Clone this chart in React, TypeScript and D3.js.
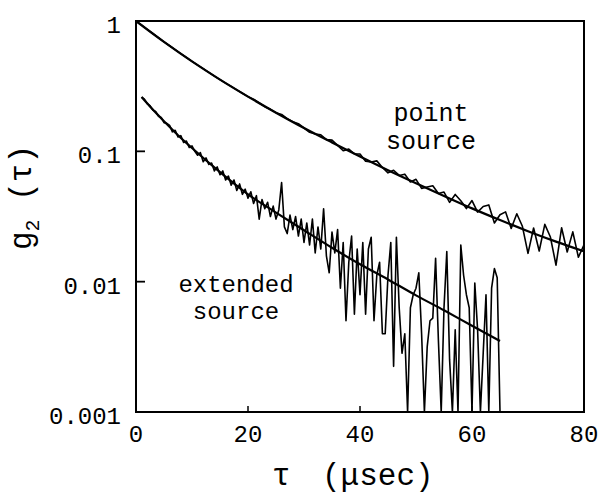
import React from 'react';
import * as d3 from 'd3';

const W = 598;
const H = 495;

const X_TICKS = [0, 20, 40, 60, 80];
const X_TICK_LABELS = ['0', '20', '40', '60', '80'];
const Y_TICKS = [1, 0.1, 0.01, 0.001];
const Y_TICK_LABELS = ['1', '0.1', '0.01', '0.001'];

const X_TITLE_SYMBOL = 'τ';
const X_TITLE_UNIT = '(μsec)';
const Y_TITLE_MAIN = 'g';
const Y_TITLE_SUB = '2';
const Y_TITLE_REST = ' (τ)';

const LABEL_POINT = ['point', 'source'];
const LABEL_EXT = ['extended', 'source'];

// fitted curves
const POINT_FIT_TAU = [0, 5, 10, 15, 20, 25, 30, 35, 40, 45, 50, 55, 60, 65, 70, 75, 80];
const POINT_FIT_G2 = [1, 0.692, 0.49, 0.355, 0.263, 0.198, 0.151, 0.117, 0.0912, 0.0716, 0.0569, 0.0455, 0.0365, 0.0297, 0.0244, 0.0203, 0.0171];

const EXT_FIT_TAU = [1, 3, 5, 7.5, 10, 15, 20, 25, 30, 35, 40, 45, 50, 55, 60, 65];
const EXT_FIT_G2 = [0.261, 0.209, 0.17, 0.133, 0.106, 0.0692, 0.0468, 0.0339, 0.0248, 0.0182, 0.0136, 0.0104, 0.00785, 0.00603, 0.00459, 0.00351];

// measured data: point source, tau = 0..80 µs step 1
const POINT_TAU_START = 0;
const POINT_TAU_STEP = 1;
const POINT_G2 = [
  1.0, 0.929, 0.863, 0.802, 0.745, 0.692, 0.646, 0.603, 0.562, 0.525,
  0.49, 0.459, 0.431, 0.404, 0.378, 0.355, 0.334, 0.315, 0.296, 0.279,
  0.263, 0.251, 0.235, 0.22, 0.21, 0.198, 0.192, 0.178, 0.169, 0.163,
  0.151, 0.14, 0.136, 0.134, 0.123, 0.122, 0.111, 0.101, 0.104, 0.0958,
  0.0955, 0.084, 0.0828, 0.0845, 0.0752, 0.0684, 0.0716, 0.0653, 0.0668, 0.0582,
  0.061, 0.052, 0.0532, 0.0545, 0.0475, 0.0487, 0.0406, 0.0467, 0.0418, 0.0364,
  0.0419, 0.0342, 0.0377, 0.0388, 0.0282, 0.0326, 0.0343, 0.0256, 0.0332, 0.0266,
  0.0165, 0.0258, 0.0172, 0.0275, 0.022, 0.0134, 0.0259, 0.0169, 0.0241, 0.0154,
  0.0192,
];

// measured data: extended source, tau = 1..65 µs step 0.5 (0 = no correlation, below axis)
const EXT_TAU_START = 1;
const EXT_TAU_STEP = 0.5;
const EXT_G2 = [
  0.261, 0.251, 0.232, 0.224, 0.207, 0.202, 0.186, 0.182, 0.166, 0.164,
  0.158, 0.141, 0.145, 0.129, 0.132, 0.117, 0.12, 0.107, 0.11, 0.1,
  0.0933, 0.0977, 0.0832, 0.0891, 0.0794, 0.0813, 0.0708, 0.0759, 0.0661, 0.0708,
  0.0603, 0.0646, 0.055, 0.0603, 0.0501, 0.0562, 0.0468, 0.0513, 0.0437, 0.049,
  0.0398, 0.0457, 0.0302, 0.0427, 0.0363, 0.0407, 0.0316, 0.038, 0.0302, 0.0355,
  0.0575, 0.0263, 0.0234, 0.0324, 0.0251, 0.0316, 0.0224, 0.0302, 0.02, 0.0282,
  0.0191, 0.0302, 0.0166, 0.0263, 0.0178, 0.0363, 0.0158, 0.0117, 0.024, 0.0166,
  0.0251, 0.00891, 0.02, 0.00501, 0.0141, 0.0224, 0.00562, 0.0178, 0.00794, 0.02,
  0.00562, 0.0178, 0.0219, 0.00501, 0.0112, 0.0141, 0.00398, 0.00398, 0.0112, 0.02,
  0.00224, 0.0219, 0.00631, 0.00282, 0.00398, 0, 0.00631, 0.00794, 0.00891, 0.0117,
  0.00398, 0, 0.00316, 0.00501, 0.00525, 0.0151, 0.00355, 0, 0.00631, 0.017,
  0.00251, 0, 0.00427, 0, 0.0191, 0.0112, 0.00794, 0.00631, 0, 0.00977,
  0.00427, 0, 0.00282, 0.00794, 0, 0.00891, 0.0126, 0.0107, 0,
];

const MONO = "'Liberation Mono', 'DejaVu Sans Mono', monospace";

export default function App() {
  const left = 136, right = 584, top = 21, bottom = 412;
  const x = d3.scaleLinear().domain([0, 80]).range([left, right]);
  const y = d3.scaleLog().domain([0.001, 1]).range([bottom, top]);
  const yMin = y.domain()[0];

  const fitLine = d3
    .line<[number, number]>()
    .x((d) => x(d[0]))
    .y((d) => y(d[1]))
    .curve(d3.curveMonotoneX);
  const dataLine = d3
    .line<[number, number]>()
    .x((d) => x(d[0]))
    .y((d) => y(Math.max(d[1], yMin)));

  const pointFit = fitLine(POINT_FIT_TAU.map((t, i) => [t, POINT_FIT_G2[i]] as [number, number])) || '';
  const extFit = fitLine(EXT_FIT_TAU.map((t, i) => [t, EXT_FIT_G2[i]] as [number, number])) || '';
  const pointData =
    dataLine(POINT_G2.map((v, i) => [POINT_TAU_START + i * POINT_TAU_STEP, v] as [number, number])) || '';
  const extData =
    dataLine(EXT_G2.map((v, i) => [EXT_TAU_START + i * EXT_TAU_STEP, v] as [number, number])) || '';

  return (
    <svg
      width={W}
      height={H}
      viewBox={`0 0 ${W} ${H}`}
      style={{ position: 'absolute', left: 0, top: 0, background: '#fff' }}
    >
      <defs>
        <clipPath id="plot">
          <rect x={left} y={top} width={right - left} height={bottom - top} />
        </clipPath>
      </defs>
      <rect x={0} y={0} width={W} height={H} fill="#fff" />

      <g clipPath="url(#plot)" fill="none" stroke="#000" strokeLinejoin="round">
        <path d={pointData} strokeWidth={1.6} />
        <path d={extData} strokeWidth={1.6} />
        <path d={pointFit} strokeWidth={2.2} />
        <path d={extFit} strokeWidth={2.2} />
      </g>

      {/* frame */}
      <rect x={left} y={top} width={right - left} height={bottom - top} fill="none" stroke="#000" strokeWidth={2} />

      {/* ticks */}
      {Y_TICKS.map((t) => (
        <line key={'yt' + t} x1={left} x2={left + 9} y1={y(t)} y2={y(t)} stroke="#000" strokeWidth={1.8} />
      ))}
      {X_TICKS.map((t) => (
        <line key={'xt' + t} x1={x(t)} x2={x(t)} y1={bottom} y2={bottom - 6} stroke="#000" strokeWidth={1.5} />
      ))}

      {/* tick labels */}
      <g fontFamily={MONO} fontSize={24} fill="#000">
        {Y_TICKS.map((t, i) => (
          <text key={'yl' + t} x={left - 15} y={y(t) + 12} textAnchor="end">
            {Y_TICK_LABELS[i]}
          </text>
        ))}
        {X_TICKS.map((t, i) => (
          <text key={'xl' + t} x={x(t)} y={442} textAnchor="middle">
            {X_TICK_LABELS[i]}
          </text>
        ))}
      </g>

      {/* axis titles */}
      <text x={272} y={485} fontFamily={MONO} fontSize={31}>
        {X_TITLE_SYMBOL}
      </text>
      <text x={322} y={485} fontFamily={MONO} fontSize={31}>
        {X_TITLE_UNIT}
      </text>
      <text
        transform="translate(31,250) rotate(-90)"
        fontFamily={MONO}
        fontSize={31}
        style={{ whiteSpace: 'pre' }}
      >
        <tspan>{Y_TITLE_MAIN}</tspan>
        <tspan fontSize={20} dy={8}>{Y_TITLE_SUB}</tspan>
        <tspan dy={-8}>{Y_TITLE_REST}</tspan>
      </text>

      {/* annotations */}
      <g fontFamily={MONO} textAnchor="middle">
        <text x={431} y={121} fontSize={25}>
          <tspan x={431}>{LABEL_POINT[0]}</tspan>
          <tspan x={431} dy={28}>{LABEL_POINT[1]}</tspan>
        </text>
        <text x={236} y={292} fontSize={24}>
          <tspan x={236}>{LABEL_EXT[0]}</tspan>
          <tspan x={236} dy={27}>{LABEL_EXT[1]}</tspan>
        </text>
      </g>
    </svg>
  );
}
